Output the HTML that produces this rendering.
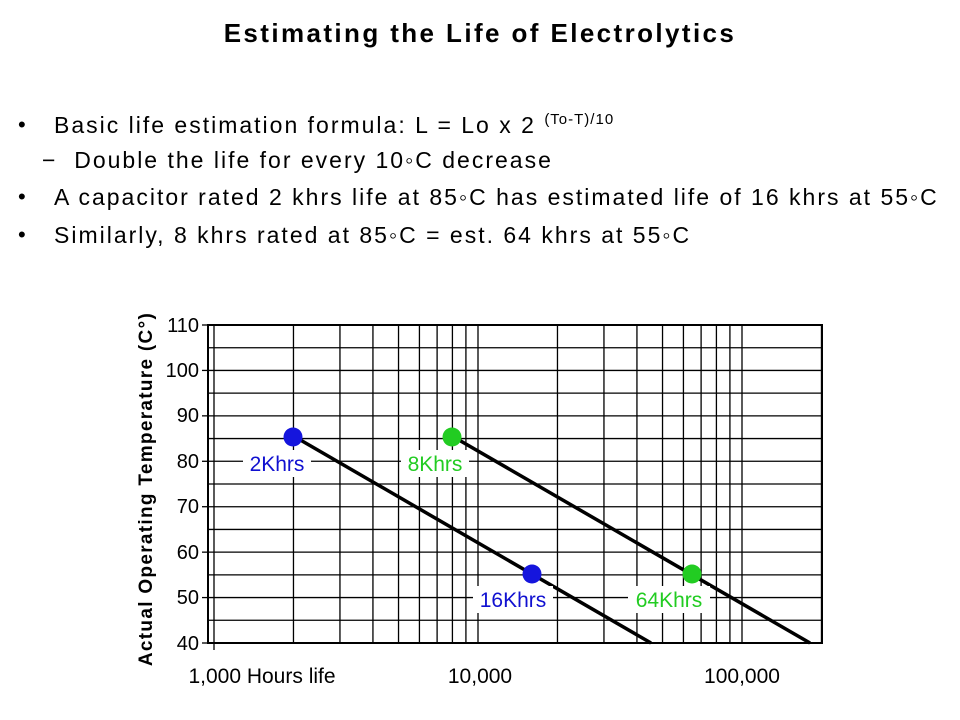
<!DOCTYPE html>
<html><head><style>
body{margin:0;width:960px;height:720px;background:#fff;font-family:"Liberation Sans",sans-serif;position:relative;overflow:hidden}
.t{position:absolute;white-space:nowrap;color:#000}
.b{font-size:23px;letter-spacing:2px}
</style></head><body>
<div class="t" style="left:0;width:960px;text-align:center;top:18px;font-size:26px;font-weight:bold;letter-spacing:2.4px">Estimating the Life of Electrolytics</div>
<div class="t" style="left:18px;top:112px;font-size:22px">•</div>
<div class="t b" style="left:54px;top:112px">Basic life estimation formula: L = Lo x 2 <span style="font-size:15px;letter-spacing:1px;position:relative;top:-9px">(To-T)/10</span></div>
<div class="t b" style="left:42px;top:147px">−&nbsp; Double the life for every 10◦C decrease</div>
<div class="t" style="left:18px;top:184px;font-size:22px">•</div>
<div class="t b" style="left:54px;top:184px">A capacitor rated 2 khrs life at 85◦C has estimated life of 16 khrs at 55◦C</div>
<div class="t" style="left:18px;top:222px;font-size:22px">•</div>
<div class="t b" style="left:54px;top:222px">Similarly, 8 khrs rated at 85◦C = est. 64 khrs at 55◦C</div>
<svg style="position:absolute;left:0;top:0" width="960" height="720">
<g stroke="#000" stroke-width="1.3" id="g"></g>
<rect x="208" y="325" width="614" height="318" fill="none" stroke="#000" stroke-width="2"/>
<line x1="293.5" y1="436" x2="651" y2="643" stroke="#000" stroke-width="3.5"/>
<line x1="452" y1="436" x2="810" y2="643" stroke="#000" stroke-width="3.5"/>
<g font-family="Liberation Sans" font-size="21" text-anchor="middle">
<rect x="243" y="450" width="68" height="27" fill="#fff"/><text x="277" y="471" fill="#1010d0">2Khrs</text>
<rect x="401" y="450" width="68" height="27" fill="#fff"/><text x="435" y="471" fill="#22cc22">8Khrs</text>
<rect x="473" y="586" width="80" height="27" fill="#fff"/><text x="513" y="607" fill="#1010d0">16Khrs</text>
<rect x="628" y="586" width="82" height="27" fill="#fff"/><text x="669" y="607" fill="#22cc22">64Khrs</text>
</g>
<circle cx="293" cy="437" r="9.5" fill="#1515dd"/>
<circle cx="452" cy="437" r="9.5" fill="#22cc22"/>
<circle cx="532" cy="574" r="9.5" fill="#1515dd"/>
<circle cx="692" cy="574" r="9.5" fill="#22cc22"/>
<g font-family="Liberation Sans" font-size="20" text-anchor="end">
<text x="199" y="332">110</text><text x="199" y="377">100</text><text x="199" y="422">90</text><text x="199" y="468">80</text><text x="199" y="513">70</text><text x="199" y="559">60</text><text x="199" y="604">50</text><text x="199" y="650">40</text>
</g>
<g font-family="Liberation Sans" font-size="21" text-anchor="middle">
<text x="262" y="683">1,000 Hours life</text><text x="480" y="683">10,000</text><text x="742" y="683">100,000</text>
</g>
<text transform="translate(152,489) rotate(-90)" font-family="Liberation Sans" font-size="19" font-weight="bold" letter-spacing="1.3" text-anchor="middle">Actual Operating Temperature (C°)</text>
</svg>
<script>
var g=document.getElementById('g'),s='';
for(var t=45;t<110;t+=5){var y=325+(110-t)*318/70;s+='<line x1="208" x2="822" y1="'+y+'" y2="'+y+'"/>';}
for(var d=0;d<3;d++)for(var m=1;m<=9;m++){var v=Math.pow(10,d)*m;if(v>200)break;var x=214+264*Math.log10(v);if(x<=822)s+='<line y1="325" y2="643" x1="'+x+'" x2="'+x+'"/>';}
s+='<line y1="643" y2="650" x1="214" x2="214"/>';
for(var t=40;t<=110;t+=10){var y=325+(110-t)*318/70;s+='<line x1="202" x2="208" y1="'+y+'" y2="'+y+'"/>';}
g.innerHTML=s;
</script>
</body></html>
